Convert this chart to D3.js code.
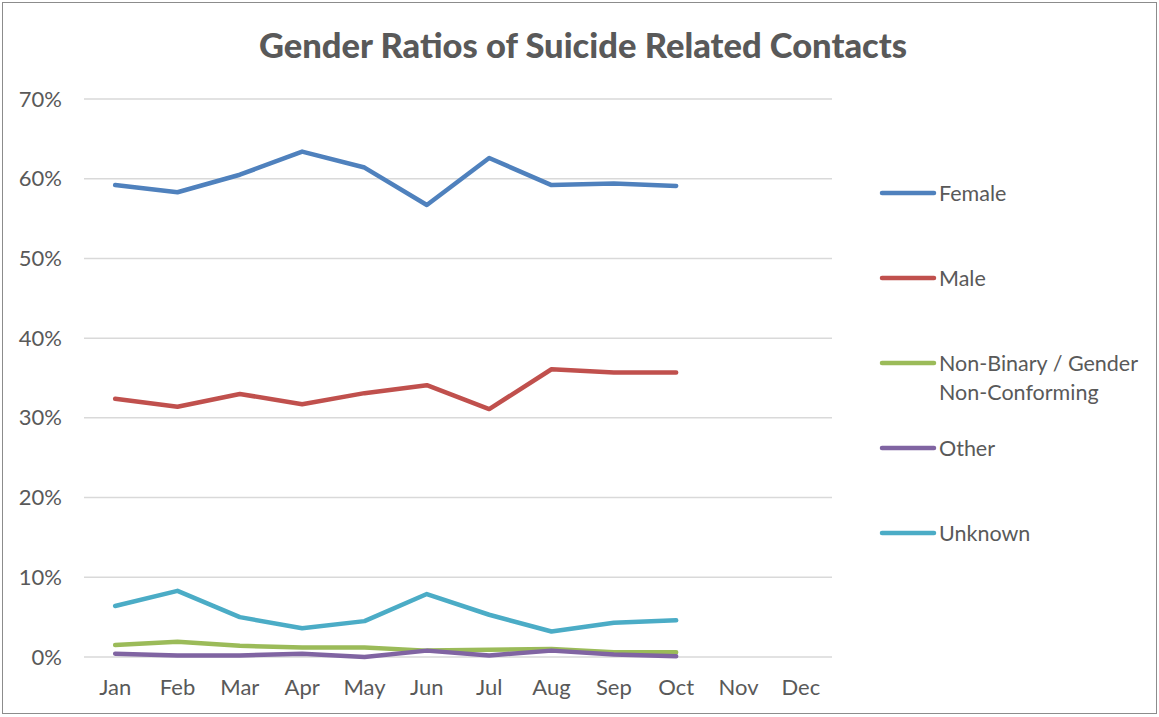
<!DOCTYPE html>
<html><head><meta charset="utf-8">
<script src="https://cdn.jsdelivr.net/npm/d3@7"></script>
<style>body{margin:0;background:#fff}svg{display:block}</style>
</head><body>
<svg id="c" width="1159" height="717"></svg>
<script>
const months = ["Jan","Feb","Mar","Apr","May","Jun","Jul","Aug","Sep","Oct","Nov","Dec"];
const yTicks = [0,10,20,30,40,50,60,70];
const female  = [59.2,58.3,60.5,63.4,61.4,56.7,62.6,59.2,59.4,59.1];
const male    = [32.4,31.4,33.0,31.7,33.1,34.1,31.1,36.1,35.7,35.7];
const nonBinary = [1.5,1.9,1.4,1.2,1.2,0.8,0.9,1.0,0.6,0.6];
const other   = [0.4,0.2,0.2,0.4,0.0,0.8,0.2,0.8,0.3,0.1];
const unknown = [6.4,8.3,5.0,3.6,4.5,7.9,5.3,3.2,4.3,4.6];
const seriesNames = ["Female","Male","Non-Binary / Gender Non-Conforming","Other","Unknown"];
const colors = ["#4F81BD","#C0504D","#9BBB59","#8064A2","#4BACC6"];
const seriesData = [female, male, nonBinary, other, unknown];

const svg = d3.select("#c");
const font = "Lato, 'Open Sans', 'Liberation Sans', sans-serif";
svg.append("rect").attr("x",2.5).attr("y",2.5).attr("width",1154).attr("height",711)
  .attr("fill","#fff").attr("stroke","#8c8c8c").attr("stroke-width",1);

const x = d3.scaleBand().domain(months).range([84,832]);
const y = d3.scaleLinear().domain([0,70]).range([657,99]);

svg.append("text").attr("x",583).attr("y",58).attr("text-anchor","middle")
  .attr("font-family",font).attr("font-weight","900").attr("font-size",34.5)
  .attr("fill","#595959").text("Gender Ratios of Suicide Related Contacts");

// gridlines
svg.append("g").selectAll("line").data(yTicks).join("line")
  .attr("x1",84).attr("x2",832).attr("y1",d=>y(d)).attr("y2",d=>y(d))
  .attr("stroke","#D9D9D9").attr("stroke-width",1.5);

// y axis
const ya = svg.append("g").attr("transform","translate(66,0)")
  .call(d3.axisLeft(y).tickValues(yTicks).tickFormat(d=>d+"%").tickSize(0).tickPadding(4));
ya.select(".domain").remove();
ya.selectAll("text").attr("font-family",font).attr("font-size",22).attr("fill","#595959");

// x axis
const xa = svg.append("g").attr("transform","translate(0,657)")
  .call(d3.axisBottom(x).tickSize(0).tickPadding(22));
xa.select(".domain").remove();
xa.selectAll("text").attr("font-family",font).attr("font-size",22).attr("fill","#595959");

const line = d3.line().x((d,i)=>x(months[i])+x.bandwidth()/2).y(d=>y(d));
svg.append("g").selectAll("path").data(seriesData).join("path")
  .attr("d",d=>line(d)).attr("fill","none")
  .attr("stroke",(d,i)=>colors[i]).attr("stroke-width",4.5)
  .attr("stroke-linejoin","round").attr("stroke-linecap","round");

// legend
const legY = [193,278,363,448,533];
const lg = svg.append("g").selectAll("g").data(seriesNames).join("g")
  .attr("transform",(d,i)=>`translate(0,${legY[i]})`);
lg.append("line").attr("x1",882).attr("x2",934).attr("y1",0).attr("y2",0)
  .attr("stroke",(d,i)=>colors[i]).attr("stroke-width",4.5).attr("stroke-linecap","round");
lg.append("text").attr("x",939).attr("y",8).attr("font-family",font).attr("font-size",21.5)
  .attr("fill","#595959").each(function(d){
    const t = d3.select(this);
    if (d.startsWith("Non-Binary")) {
      t.append("tspan").attr("x",939).attr("dy",0).text("Non-Binary / Gender");
      t.append("tspan").attr("x",939).attr("dy",29).text("Non-Conforming");
    } else t.text(d);
  });
</script>
</body></html>
